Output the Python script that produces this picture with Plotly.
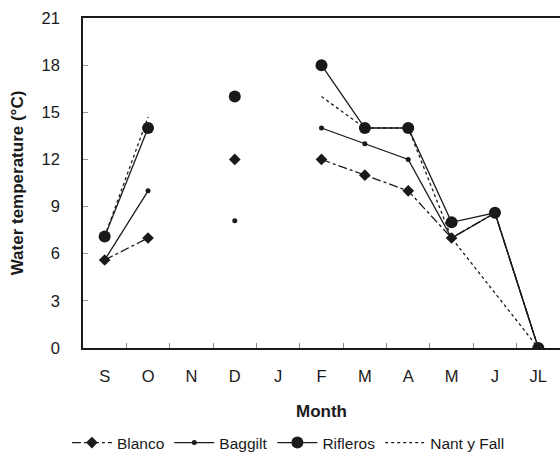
import plotly.graph_objects as go

months = ["S", "O", "N", "D", "J", "F", "M", "A", "M", "J", "JL"]
blanco = [5.6, 7.0, None, 12.0, None, 12.0, 11.0, 10.0, 7.0, 8.6, 0.0]
baggilt = [5.6, 10.0, None, 8.1, None, 14.0, 13.0, 12.0, 7.0, 8.6, 0.0]
rifleros = [7.1, 14.0, None, 16.0, None, 18.0, 14.0, 14.0, 8.0, 8.6, 0.0]
nant = [7.1, 14.7, None, None, None, 16.0, 14.0, 14.0, 7.0, None, 0.0]
nant_bridged = [9]  # month index where the Nant y Fall line is drawn straight through

yticks = [0, 3, 6, 9, 12, 15, 18, 21]

idx = list(range(len(months)))
C = "#1a1a1a"
FONT = "Liberation Sans, Arial, sans-serif"

fig = go.Figure()
fig.add_trace(go.Scatter(
    x=idx, y=blanco, name="Blanco", mode="lines+markers",
    line=dict(color=C, width=1.3, dash="dashdot"),
    marker=dict(symbol="diamond", size=9, color=C)))
fig.add_trace(go.Scatter(
    x=idx, y=baggilt, name="Baggilt", mode="lines+markers",
    line=dict(color=C, width=1.3),
    marker=dict(symbol="circle", size=5, color=C)))
fig.add_trace(go.Scatter(
    x=idx, y=rifleros, name="Rifleros", mode="lines+markers",
    line=dict(color=C, width=1.3),
    marker=dict(symbol="circle", size=12, color=C)))
nx = [i for i in idx if i not in nant_bridged]
ny = [nant[i] for i in nx]
fig.add_trace(go.Scatter(
    x=nx, y=ny, name="Nant y Fall", mode="lines",
    line=dict(color=C, width=1.3, dash="dot")))

fig.update_layout(
    width=560, height=460,
    margin=dict(l=83, r=0, t=18, b=112),
    plot_bgcolor="white", paper_bgcolor="white",
    font=dict(family=FONT, color=C, size=16),
    showlegend=True,
    legend=dict(orientation="h", x=0.515, xref="container", xanchor="center",
                y=0.0, yref="container", yanchor="bottom",
                font=dict(size=15.5, family=FONT), itemwidth=40,
                tracegroupgap=0, traceorder="normal"),
    xaxis=dict(range=[-0.5, 10.5], tickmode="array", tickvals=idx, ticktext=months,
               ticks="", showgrid=False, zeroline=False,
               showline=True, linecolor=C, linewidth=1.5, mirror=True,
               tickfont=dict(size=16.5), ticklabelstandoff=12,
               minor=dict(tickmode="array", tickvals=[i + 0.5 for i in idx[:-1]],
                          ticks="inside", ticklen=5, tickcolor="#888", tickwidth=1,
                          showgrid=False),
               title=dict(text="<b>Month</b>", font=dict(size=17), standoff=22)),
    yaxis=dict(range=[0, 21], tickmode="array", tickvals=yticks,
               ticks="inside", ticklen=5, tickcolor="#999", tickwidth=1,
               showgrid=False, zeroline=False,
               showline=True, linecolor=C, linewidth=1.5,
               tickfont=dict(size=16.5), ticklabelstandoff=18,
               title=dict(text="<b>Water temperature (°C)</b>", font=dict(size=17), standoff=14)),
)

fig.write_html("out.html")
